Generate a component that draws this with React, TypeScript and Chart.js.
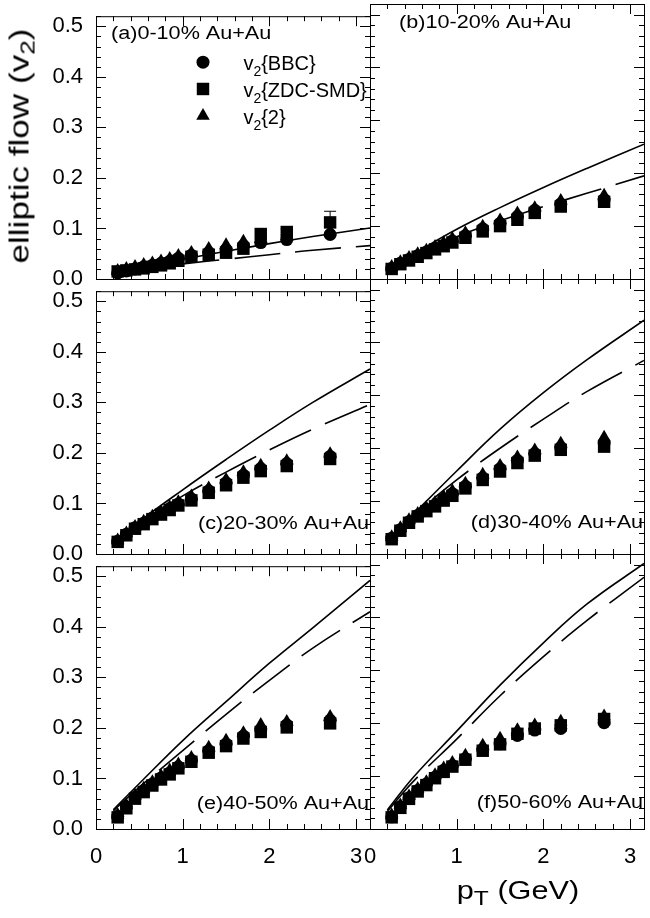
import { useEffect, useRef } from "react";
import { Chart, registerables } from "chart.js";
import type { ChartConfiguration, Plugin } from "chart.js";
import { drawPoint } from "chart.js/helpers";

Chart.register(...registerables);

const FONT = '"Liberation Sans", Arial, Helvetica, sans-serif';
Chart.defaults.font.family = FONT;

// ============================================================================
// DATA
// ============================================================================
const pT = [0.25, 0.35, 0.45, 0.55, 0.65, 0.75, 0.85, 0.95, 1.1, 1.3, 1.5, 1.7, 1.9, 2.2, 2.7];
const curvePT = [0.2, 0.5, 1.0, 1.5, 2.0, 2.5, 3.16];

const xTickValues = [0, 1, 2, 3];
const yTickValues = [0, 0.1, 0.2, 0.3, 0.4, 0.5];

const legendTags = ["BBC", "ZDC-SMD", "2"];

// (a) 0-10%
const bbcA = [0.012, 0.016, 0.02, 0.024, 0.027, 0.031, 0.035, 0.041, 0.047, 0.052, 0.058, 0.066, 0.072, 0.078, 0.088];
const zdcA = [0.015, 0.017, 0.019, 0.021, 0.024, 0.027, 0.031, 0.036, 0.044, 0.048, 0.052, 0.06, 0.089, 0.093, 0.112];
const twoA = [0.016, 0.02, 0.024, 0.028, 0.031, 0.035, 0.04, 0.046, 0.052, 0.06, 0.067, 0.074, 0.08, 0.084, 0.094];
const zdcErrA = [0, 0, 0, 0, 0, 0, 0, 0, 0, 0, 0, 0, 0, 0.006, 0.022];
const solidA = [0.012, 0.022, 0.039, 0.055, 0.07, 0.084, 0.101];
const dashA = [0.012, 0.02, 0.03, 0.039, 0.048, 0.057, 0.066];

// (b) 10-20%
const bbcB = [0.02, 0.03, 0.037, 0.044, 0.051, 0.058, 0.064, 0.072, 0.082, 0.095, 0.105, 0.118, 0.13, 0.142, 0.15];
const zdcB = [0.019, 0.028, 0.035, 0.042, 0.049, 0.056, 0.062, 0.069, 0.078, 0.09, 0.1, 0.112, 0.125, 0.137, 0.146];
const twoB = [0.023, 0.032, 0.04, 0.047, 0.054, 0.061, 0.068, 0.076, 0.087, 0.099, 0.111, 0.124, 0.134, 0.148, 0.158];
const solidB = [0.018, 0.047, 0.094, 0.135, 0.173, 0.209, 0.255];
const dashB = [0.018, 0.043, 0.08, 0.11, 0.137, 0.162, 0.195];

// (c) 20-30%
const bbcC = [0.025, 0.039, 0.052, 0.061, 0.071, 0.08, 0.09, 0.099, 0.109, 0.125, 0.141, 0.156, 0.169, 0.179, 0.193];
const zdcC = [0.024, 0.037, 0.05, 0.059, 0.069, 0.078, 0.087, 0.096, 0.106, 0.121, 0.136, 0.151, 0.164, 0.174, 0.188];
const twoC = [0.027, 0.041, 0.054, 0.064, 0.074, 0.083, 0.093, 0.103, 0.114, 0.13, 0.147, 0.162, 0.175, 0.184, 0.198];
const solidC = [0.02, 0.064, 0.127, 0.187, 0.245, 0.3, 0.366];
const dashC = [0.02, 0.062, 0.115, 0.162, 0.206, 0.247, 0.296];

// (d) 30-40%
const bbcD = [0.03, 0.046, 0.061, 0.073, 0.084, 0.093, 0.104, 0.114, 0.128, 0.144, 0.161, 0.177, 0.19, 0.201, 0.21];
const zdcD = [0.028, 0.044, 0.059, 0.071, 0.081, 0.09, 0.101, 0.11, 0.124, 0.14, 0.156, 0.172, 0.186, 0.197, 0.203];
const twoD = [0.032, 0.049, 0.064, 0.076, 0.087, 0.097, 0.108, 0.119, 0.133, 0.15, 0.167, 0.183, 0.196, 0.209, 0.22];
const solidD = [0.025, 0.075, 0.157, 0.236, 0.305, 0.367, 0.442];
const dashD = [0.025, 0.072, 0.14, 0.2, 0.255, 0.307, 0.366];

// (e) 40-50%
const bbcE = [0.025, 0.044, 0.063, 0.076, 0.089, 0.101, 0.111, 0.123, 0.136, 0.155, 0.168, 0.184, 0.196, 0.206, 0.215];
const zdcE = [0.023, 0.041, 0.06, 0.073, 0.086, 0.098, 0.108, 0.12, 0.133, 0.151, 0.164, 0.179, 0.192, 0.201, 0.209];
const twoE = [0.028, 0.047, 0.066, 0.08, 0.093, 0.105, 0.116, 0.128, 0.141, 0.161, 0.175, 0.19, 0.206, 0.212, 0.222];
const solidE = [0.038, 0.09, 0.175, 0.252, 0.328, 0.398, 0.492];
const dashE = [0.036, 0.083, 0.155, 0.227, 0.294, 0.358, 0.43];

// (f) 50-60%
const bbcF = [0.023, 0.042, 0.059, 0.073, 0.085, 0.098, 0.111, 0.12, 0.133, 0.15, 0.161, 0.177, 0.187, 0.19, 0.201];
const zdcF = [0.022, 0.04, 0.057, 0.071, 0.083, 0.096, 0.108, 0.118, 0.131, 0.148, 0.16, 0.18, 0.19, 0.196, 0.208];
const twoF = [0.026, 0.045, 0.062, 0.076, 0.089, 0.102, 0.115, 0.125, 0.139, 0.158, 0.171, 0.187, 0.196, 0.203, 0.213];
const solidF = [0.036, 0.098, 0.185, 0.272, 0.352, 0.425, 0.502];
const dashF = [0.033, 0.09, 0.17, 0.252, 0.326, 0.394, 0.476];

// ============================================================================
// LAYOUT
// ============================================================================
const X_MAX = 3.16;
const Y_MAX = 0.52;
const MINOR_X = 0.2;
const MINOR_Y = 0.02;

const PLOT_LEFT = [96, 370];
const PLOT_TOP = [4, 279, 554];
const PLOT_W = 274;
const PLOT_H = 275;
const M_LEFT = 72;
const M_RIGHT = 12;
const M_TOP = 14;
const M_BOTTOM = 44;
const CANVAS_W = PLOT_W + M_LEFT + M_RIGHT;
const CANVAS_H = PLOT_H + M_TOP + M_BOTTOM;

interface PanelDef {
  id: string;
  row: number;
  col: number;
  label: string;
  labelAt: [number, number];
  labelAlign: "left" | "right";
  bbc: number[];
  zdc: number[];
  two: number[];
  zdcErr?: number[];
  solid: number[];
  dash: number[];
  legend?: boolean;
}

const PANELS: PanelDef[] = [
  { id: "a", row: 0, col: 0, label: "(a)0-10% Au+Au", labelAt: [0.173, 0.484], labelAlign: "left",
    bbc: bbcA, zdc: zdcA, two: twoA, zdcErr: zdcErrA, solid: solidA, dash: dashA, legend: true },
  { id: "b", row: 0, col: 1, label: "(b)10-20% Au+Au", labelAt: [0.335, 0.484], labelAlign: "left",
    bbc: bbcB, zdc: zdcB, two: twoB, solid: solidB, dash: dashB },
  { id: "c", row: 1, col: 0, label: "(c)20-30% Au+Au", labelAt: [3.15, 0.059], labelAlign: "right",
    bbc: bbcC, zdc: zdcC, two: twoC, solid: solidC, dash: dashC },
  { id: "d", row: 1, col: 1, label: "(d)30-40% Au+Au", labelAt: [3.15, 0.059], labelAlign: "right",
    bbc: bbcD, zdc: zdcD, two: twoD, solid: solidD, dash: dashD },
  { id: "e", row: 2, col: 0, label: "(e)40-50% Au+Au", labelAt: [3.15, 0.049], labelAlign: "right",
    bbc: bbcE, zdc: zdcE, two: twoE, solid: solidE, dash: dashE },
  { id: "f", row: 2, col: 1, label: "(f)50-60% Au+Au", labelAt: [3.15, 0.049], labelAlign: "right",
    bbc: bbcF, zdc: zdcF, two: twoF, solid: solidF, dash: dashF },
];

const MARKERS = [
  { pointStyle: "circle", radius: 6.5 },
  { pointStyle: "rect", radius: 8.8 },
  { pointStyle: "triangle", radius: 7.8 },
];

// ============================================================================
// HELPERS
// ============================================================================
const drawStretched = (
  ctx: CanvasRenderingContext2D,
  text: string,
  x: number,
  y: number,
  size: number,
  sx: number,
  align: "left" | "right"
) => {
  ctx.save();
  ctx.font = `${size}px ${FONT}`;
  const w = ctx.measureText(text).width * sx;
  ctx.translate(align === "right" ? x - w : x, y);
  ctx.scale(sx, 1);
  ctx.textAlign = "left";
  ctx.textBaseline = "middle";
  ctx.fillText(text, 0, 0);
  ctx.restore();
};

const drawLegendText = (ctx: CanvasRenderingContext2D, tag: string, x: number, y: number, size: number) => {
  ctx.save();
  ctx.translate(x, y);
  ctx.textAlign = "left";
  ctx.textBaseline = "alphabetic";
  ctx.font = `${size}px ${FONT}`;
  ctx.fillText("v", 0, 0);
  let cx = ctx.measureText("v").width;
  ctx.font = `${Math.round(size * 0.7)}px ${FONT}`;
  ctx.fillText("2", cx, size * 0.3);
  cx += ctx.measureText("2").width;
  ctx.font = `${size}px ${FONT}`;
  ctx.fillText(`{${tag}}`, cx, 0);
  ctx.restore();
};

const framePlugin: Plugin = {
  id: "frame",
  afterDatasetsDraw(chart, _args, opts: any) {
    const { ctx, chartArea: a } = chart;
    const xs = chart.scales.x;
    const ys = chart.scales.y;
    ctx.save();
    ctx.strokeStyle = "#000";
    ctx.fillStyle = "#000";
    ctx.lineWidth = 1;

    // error bars on the ZDC-SMD points
    if (opts.errors) {
      const pts = chart.data.datasets[3].data as { x: number; y: number }[];
      ctx.beginPath();
      opts.errors.forEach((e: number, i: number) => {
        if (!e) return;
        const px = xs.getPixelForValue(pts[i].x);
        const top = ys.getPixelForValue(pts[i].y + e);
        const bot = ys.getPixelForValue(pts[i].y - e);
        ctx.moveTo(px, top);
        ctx.lineTo(px, bot);
        ctx.moveTo(px - 6, top);
        ctx.lineTo(px + 6, top);
        ctx.moveTo(px - 6, bot);
        ctx.lineTo(px + 6, bot);
      });
      ctx.stroke();
    }

    // frame
    ctx.strokeRect(a.left + 0.5, a.top + 0.5, a.right - a.left, a.bottom - a.top);

    // inward ticks on all four sides
    ctx.beginPath();
    for (let i = 0; i * MINOR_Y <= Y_MAX + 1e-9; i++) {
      const py = Math.round(ys.getPixelForValue(i * MINOR_Y)) + 0.5;
      const len = i % 5 === 0 ? 10 : 5;
      ctx.moveTo(a.left, py);
      ctx.lineTo(a.left + len, py);
      ctx.moveTo(a.right, py);
      ctx.lineTo(a.right - len, py);
    }
    for (let i = 0; i * MINOR_X <= X_MAX + 1e-9; i++) {
      const px = Math.round(xs.getPixelForValue(i * MINOR_X)) + 0.5;
      const len = i % 5 === 0 ? 10 : 5;
      ctx.moveTo(px, a.bottom);
      ctx.lineTo(px, a.bottom - len);
      ctx.moveTo(px, a.top);
      ctx.lineTo(px, a.top + len);
    }
    ctx.stroke();

    // panel label
    drawStretched(
      ctx,
      opts.label,
      xs.getPixelForValue(opts.labelAt[0]),
      ys.getPixelForValue(opts.labelAt[1]),
      18,
      1.2,
      opts.labelAlign
    );

    // legend
    if (opts.legend) {
      const mx = xs.getPixelForValue(1.234);
      const tx = xs.getPixelForValue(1.7);
      MARKERS.forEach((m, k) => {
        const my = ys.getPixelForValue(0.429 - k * 0.053);
        drawPoint(ctx, { ...m, rotation: 0, borderWidth: 0 } as any, mx, my);
        drawLegendText(ctx, legendTags[k], tx, my + 8, 20);
      });
    }
    ctx.restore();
  },
};

const createConfig = (p: PanelDef): ChartConfiguration => {
  const showX = p.row === 2;
  const showY = p.col === 0;
  const tickFont = { family: FONT, size: 22 };
  const points = (vals: number[]) => pT.map((x, i) => ({ x, y: vals[i] }));
  const curve = (vals: number[]) => curvePT.map((x, i) => ({ x, y: vals[i] }));
  const marker = (k: number) => ({
    type: "scatter" as const,
    pointStyle: MARKERS[k].pointStyle as any,
    pointRadius: MARKERS[k].radius,
    backgroundColor: "#000",
    borderColor: "#000",
    borderWidth: 0,
    clip: false as any,
  });
  const line = (vals: number[], dash: number[]) => ({
    type: "line" as const,
    data: curve(vals),
    borderColor: "#000",
    borderWidth: 1.6,
    borderDash: dash,
    pointRadius: 0,
    fill: false,
    tension: 0.4,
  });
  return {
    type: "scatter",
    data: {
      datasets: [
        { ...line(p.solid, []), label: "solid" },
        { ...line(p.dash, [46, 15]), label: "dashed" },
        { ...marker(0), label: "v2{BBC}", data: points(p.bbc) },
        { ...marker(1), label: "v2{ZDC-SMD}", data: points(p.zdc) },
        { ...marker(2), label: "v2{2}", data: points(p.two) },
      ] as any,
    },
    options: {
      responsive: false,
      animation: false,
      events: [],
      layout: { padding: { left: 0, right: M_RIGHT, top: M_TOP, bottom: 0 } },
      plugins: {
        legend: { display: false },
        tooltip: { enabled: false },
        frame: {
          label: p.label,
          labelAt: p.labelAt,
          labelAlign: p.labelAlign,
          legend: !!p.legend,
          errors: p.zdcErr,
        },
      } as any,
      scales: {
        x: {
          type: "linear",
          min: 0,
          max: X_MAX,
          grid: { display: false, drawTicks: false },
          border: { display: false },
          afterBuildTicks: (s: any) => {
            s.ticks = xTickValues.map((value) => ({ value }));
          },
          afterFit: (s: any) => {
            s.height = M_BOTTOM;
          },
          ticks: {
            display: showX,
            padding: 15,
            color: "#000",
            font: tickFont,
            maxRotation: 0,
            autoSkip: false,
            callback: (v: any) => String(v),
          },
        },
        y: {
          type: "linear",
          min: 0,
          max: Y_MAX,
          grid: { display: false, drawTicks: false },
          border: { display: false },
          afterBuildTicks: (s: any) => {
            s.ticks = yTickValues.map((value) => ({ value }));
          },
          afterFit: (s: any) => {
            s.width = M_LEFT;
          },
          ticks: {
            display: showY,
            padding: 13,
            color: "#000",
            font: tickFont,
            autoSkip: false,
            callback: (v: any) => Number(v).toFixed(1),
          },
        },
      },
    },
    plugins: [framePlugin],
  };
};

// ============================================================================
// COMPONENTS
// ============================================================================
function Panel({ def }: { def: PanelDef }) {
  const ref = useRef<HTMLCanvasElement>(null);

  useEffect(() => {
    if (!ref.current) return;
    const chart = new Chart(ref.current, createConfig(def));
    return () => chart.destroy();
  }, [def]);

  return (
    <canvas
      ref={ref}
      width={CANVAS_W}
      height={CANVAS_H}
      style={{
        position: "absolute",
        left: PLOT_LEFT[def.col] - M_LEFT,
        top: PLOT_TOP[def.row] - M_TOP,
        width: CANVAS_W,
        height: CANVAS_H,
      }}
    />
  );
}

export default function App() {
  return (
    <div
      style={{
        position: "absolute",
        left: 0,
        top: 0,
        width: 650,
        height: 918,
        background: "#fff",
        overflow: "hidden",
        fontFamily: FONT,
        color: "#000",
      }}
    >
      {PANELS.map((p) => (
        <Panel key={p.id} def={p} />
      ))}
      <div
        style={{
          position: "absolute",
          left: 20,
          top: 146,
          transform: "translate(-50%, -50%) rotate(-90deg) scaleX(1.3)",
          fontSize: 27,
          lineHeight: 1,
          whiteSpace: "nowrap",
        }}
      >
        elliptic flow (v<span style={{ fontSize: "0.75em", position: "relative", top: "0.3em" }}>2</span>)
      </div>
      <div
        style={{
          position: "absolute",
          left: 518,
          top: 890,
          transform: "translate(-50%, -50%) scaleX(1.18)",
          fontSize: 26,
          lineHeight: 1,
          whiteSpace: "nowrap",
        }}
      >
        p<span style={{ fontSize: "0.8em", position: "relative", top: "0.3em" }}>T</span> (GeV)
      </div>
    </div>
  );
}
